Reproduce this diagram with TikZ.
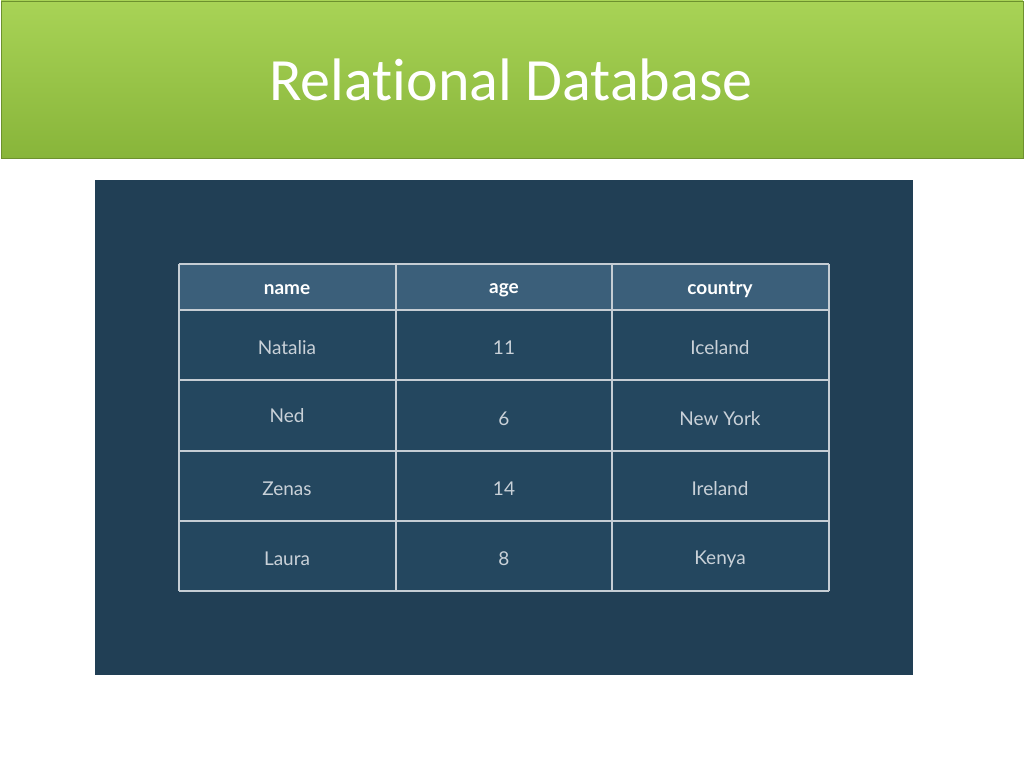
\documentclass[tikz,border=0pt]{standalone}
\usepackage{fontspec}
\setmainfont[Ligatures={NoCommon,NoContextual}]{Carlito}
\newfontfamily\tabfont{Lato}
\definecolor{gtop}{HTML}{A8D356}
\definecolor{gbot}{HTML}{88B53A}
\definecolor{panel}{HTML}{213F55}
\definecolor{hdr}{HTML}{3B5F7A}
\definecolor{cell}{HTML}{24475F}
\definecolor{grid}{HTML}{C5CDD4}
\definecolor{txt}{HTML}{C9D1D8}
\begin{document}
\begin{tikzpicture}[x=1pt,y=-1pt,
  hcell/.style={font=\tabfont\bfseries\fontsize{19}{22}\selectfont,text=white},
  bcell/.style={font=\tabfont\fontsize{19}{22}\selectfont,text=txt}]
\useasboundingbox (0,0) rectangle (1024,768);
\fill[white] (0,0) rectangle (1024,768);
\shade[top color=gtop,bottom color=gbot,draw=gbot!80!black,line width=0.8pt] (1,1) rectangle (1023,158);
\node (title) [font=\fontsize{60}{70}\selectfont,text=white] at (511,80) {Relational Database};
\fill[panel] (95,180) rectangle (913,675);
\fill[hdr] (179,264) rectangle (829,310);
\fill[cell] (179,310) rectangle (829,591);
\foreach \y in {264,310,380,451,521,591} \draw[grid,line width=1.2pt] (179,\y) -- (829,\y);
\foreach \x in {179,396,612,829} \draw[grid,line width=1.2pt] (\x,264) -- (\x,591);
\node (h1) [hcell] at (287,290) {name};
\node (h2) [hcell] at (504,290) {age};
\node (h3) [hcell] at (720,290) {country};
\node (a1) [bcell] at (287,348) {Natalia};
\node (a2) [bcell] at (504,348) {11};
\node (a3) [bcell] at (720,348) {Iceland};
\node (b1) [bcell] at (287,416) {Ned};
\node (b2) [bcell] at (504,419) {6};
\node (b3) [bcell] at (720,419) {New York};
\node (c1) [bcell] at (287,489) {Zenas};
\node (c2) [bcell] at (504,489) {14};
\node (c3) [bcell] at (720,489) {Ireland};
\node (d1) [bcell] at (287,559) {Laura};
\node (d2) [bcell] at (504,559) {8};
\node (d3) [bcell] at (720,559) {Kenya};
\end{tikzpicture}
\end{document}
